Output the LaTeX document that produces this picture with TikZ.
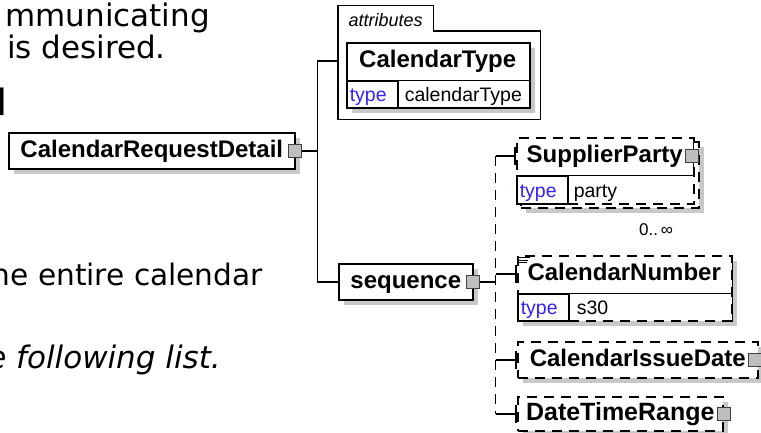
\documentclass[tikz,border=0pt]{standalone}
\usepackage{fontspec}
\setmainfont{Liberation Sans}
\newfontfamily\prosefont{DejaVu Sans}
\usetikzlibrary{positioning,shadows,arrows.meta}
\definecolor{typeblue}{RGB}{51,34,255}
\definecolor{shadowgray}{RGB}{200,200,200}
\definecolor{buttongray}{RGB}{190,190,190}
\tikzset{box/.style={draw,line width=1.6pt,fill=white,anchor=north west,inner sep=0pt},
         optional/.style={dash pattern=on 10pt off 7pt},
         boxshadow/.style={drop shadow={shadow xshift=5pt,shadow yshift=-5pt,fill=shadowgray,opacity=1}},
         elemname/.style={font=\fontsize{24}{28}\selectfont\bfseries,text height=16pt,text depth=3pt},
         namecell/.style={elemname,anchor=north west,inner sep=0pt,minimum height=38pt},
         typekey/.style={draw,line width=1.6pt,anchor=north west,text width=45pt,inner xsep=3pt,inner ysep=0pt,
                         minimum height=27pt,text height=14pt,text depth=0pt,text=typeblue,
                         font=\fontsize{19.5}{24}\selectfont},
         typeval/.style={anchor=west,inner xsep=6pt,inner ysep=0pt,text height=14pt,text depth=0pt,
                         font=\fontsize{19.5}{24}\selectfont},
         button/.style={draw=black!75,fill=buttongray,line width=1pt,minimum size=13pt,inner sep=0pt},
         conn/.style={line width=1.6pt},
         optconn/.style={conn,-{Bar[width=18pt]}},
         prose/.style={anchor=base east,inner sep=0pt,font=\prosefont\fontsize{31}{37}\selectfont}}

\begin{document}
\begin{tikzpicture}[x=1pt,y=-1pt]
\useasboundingbox[fill=white] (0,0) rectangle (761,432);
% text of the page beside the diagram
\node[prose] (text-a) at (210,26) {mmunicating};
\node[prose] (text-b) at (166,58) {is desired.};
\node[prose] (text-c) at (7,111) {\bfseries ]};
\node[prose,font=\prosefont\fontsize{29.6}{36}\selectfont] (text-d) at (263,285) {he entire calendar};
\node[prose] (text-e) at (221,368) {\itshape e following list.};

% root element
\node[box,boxshadow,elemname,minimum width=286pt,minimum height=36pt] (root) at (8,132) {CalendarRequestDetail};
\node[button,xshift=-1pt] (root-btn) at (root.east) {};
\coordinate[right=16pt of root-btn.east] (root-bus);

% attributes
\node[anchor=south west,minimum width=95pt,minimum height=25pt,inner sep=0pt,text height=17pt,text depth=0pt,
      font=\fontsize{18}{22}\selectfont\itshape] (attr-tab) at (338,31) {attributes};
\node[anchor=north west,minimum width=202pt,minimum height=88pt] (attrs) at (338,31) {};
\draw[conn] (attr-tab.north west) -- (attrs.south west) -- (attrs.south east) -- (attrs.north east)
  -- (attr-tab.south east) |- (attr-tab.north west) -- cycle;
\node[box,boxshadow,minimum width=183pt,minimum height=65pt] (ctype) at (346,42) {};
\node[namecell,minimum width=183pt] (ctype-name) at (ctype.north west) {CalendarType};
\draw[conn] (ctype-name.south west) -- (ctype-name.south east);
\node[typekey] (ctype-key) at (ctype-name.south west) {type};
\node[typeval] (ctype-val) at (ctype-key.east) {calendarType};

% sequence
\node[box,boxshadow,elemname,minimum width=134pt,minimum height=36pt] (seq) at (338,263) {sequence};
\node[button,xshift=-1pt] (seq-btn) at (seq.east) {};
\coordinate[right=16pt of seq-btn.east] (seq-bus);

% SupplierParty (0..unbounded)
\node[box,boxshadow,optional,minimum width=178pt,minimum height=66pt] (supp-back) at (520,141) {};
\node[box,optional,minimum width=177pt,minimum height=66pt] (supp) at (516,137) {};
\node[namecell,minimum width=177pt] (supp-name) at (supp.north west) {SupplierParty};
\draw[conn] (supp-name.north east) -- (supp-name.south east) -- (supp-name.south west);
\node[typekey,minimum height=28pt] (supp-key) at (supp-name.south west) {type};
\node[typeval,inner xsep=5pt] (supp-val) at (supp-key.east) {party};
\node[button,xshift=-1pt] (supp-btn) at (supp-name.east) {};
\node[anchor=base,inner sep=0pt,font=\fontsize{17}{20}\selectfont] (supp-occurs) at (656,235) {0..\,∞};

% CalendarNumber
\node[box,boxshadow,optional,minimum width=214pt,minimum height=65pt] (cnum) at (517,255) {};
\node[namecell,minimum width=214pt] (cnum-name) at (cnum.north west) {CalendarNumber};
\draw[conn] (cnum.north east) -- (cnum.south east) (cnum-name.south west) -- (cnum-name.south east);
\node[typekey] (cnum-key) at (cnum-name.south west) {type};
\node[typeval,inner xsep=7pt] (cnum-val) at (cnum-key.east) {s30};
\draw[line width=0.8pt] ([shift={(2,2.5)}]cnum.north west) -- ++(11,0)
  ([shift={(2,5)}]cnum.north west) -- ++(9,0) ([shift={(2,7.5)}]cnum.north west) -- ++(8,0);

% CalendarIssueDate, DateTimeRange
\node[box,boxshadow,optional,elemname,minimum width=240pt,minimum height=36pt] (cid) at (517,341) {CalendarIssueDate};
\node[button,xshift=-3.5pt] (cid-btn) at (cid.east) {};
\node[box,boxshadow,optional,elemname,font=\fontsize{25}{28}\selectfont\bfseries,
      minimum width=205pt,minimum height=34pt] (dtr) at (517,396) {DateTimeRange};
\node[button] (dtr-btn) at (dtr.east) {};

% connectors
\draw[conn] (root-btn.east) -- (root-bus);
\draw[conn] (attrs.west |- ctype-name.west) -| (root-bus) |- (seq.west);
\draw[conn] (seq-btn.east) -- (seq-bus);
\draw[conn,optional] (seq-bus |- supp-name.west) -- (seq-bus |- dtr.west);
\draw[optconn] (seq-bus |- supp-name.west) -- (supp-name.west);
\draw[optconn] (seq-bus |- cnum-name.west) -- (cnum-name.west);
\draw[optconn] (seq-bus |- cid.west) -- (cid.west);
\draw[optconn] (seq-bus |- dtr.west) -- (dtr.west);
\end{tikzpicture}
\end{document}
